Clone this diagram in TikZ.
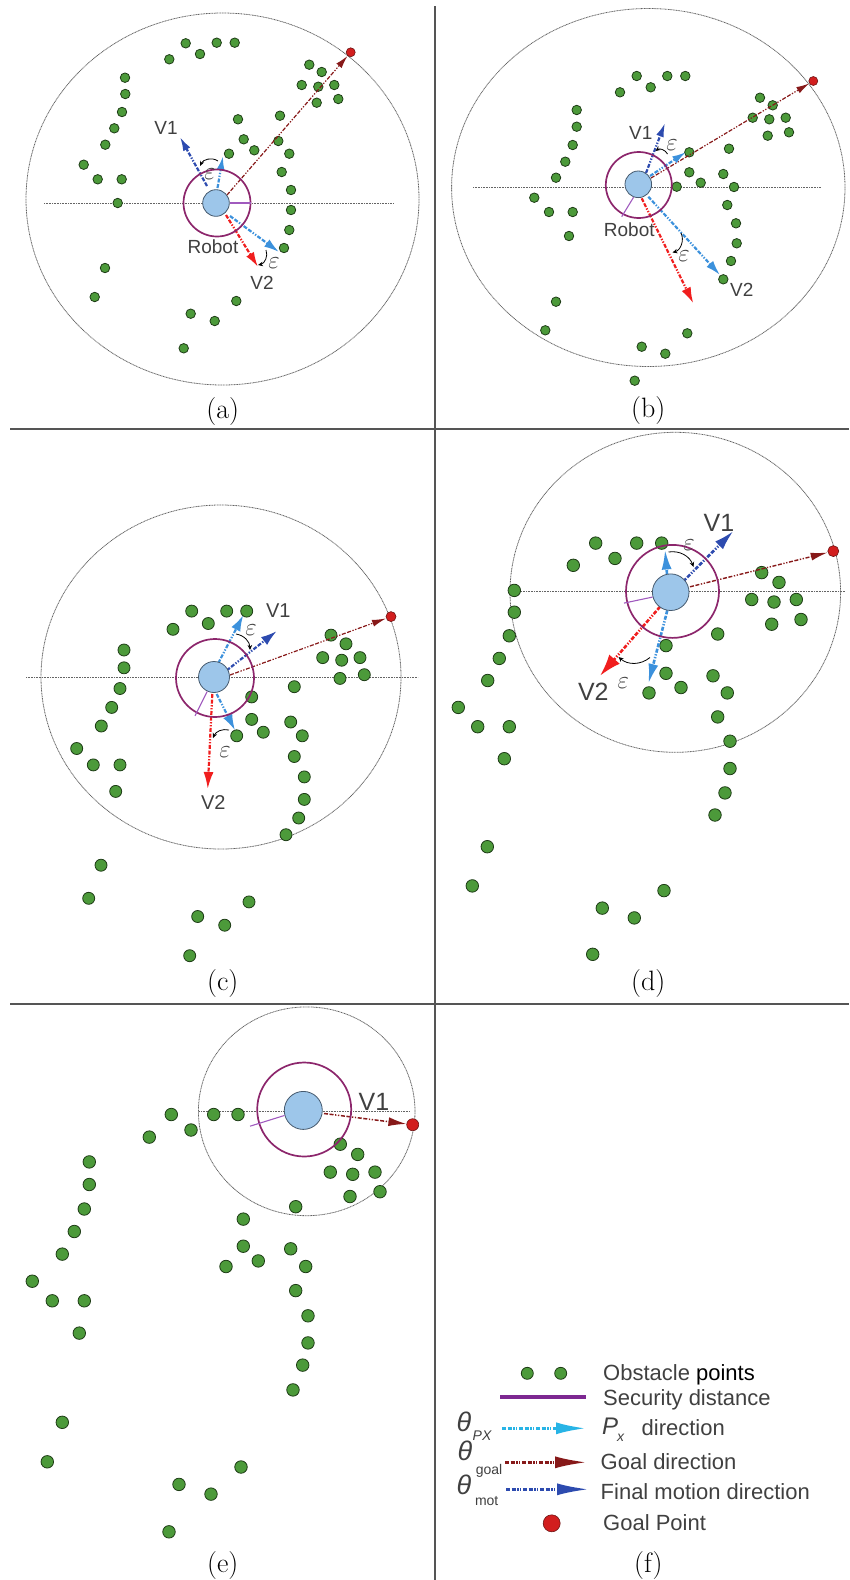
\documentclass[tikz,border=0pt]{standalone}
\usepackage{fontspec}
\newfontfamily\arialf{Liberation Sans}
\usetikzlibrary{arrows.meta,positioning}

\definecolor{obsgreen}{RGB}{76,154,58}
\definecolor{obsline}{RGB}{30,60,22}
\definecolor{robfill}{RGB}{157,198,234}
\definecolor{robline}{RGB}{70,90,110}
\definecolor{secpurple}{RGB}{140,38,108}
\definecolor{radviolet}{RGB}{160,90,190}
\definecolor{legpurple}{RGB}{125,40,145}
\definecolor{pxblue}{RGB}{60,145,220}
\definecolor{pxcyan}{RGB}{40,180,230}
\definecolor{goalred}{RGB}{135,25,25}
\definecolor{motblue}{RGB}{45,75,175}
\definecolor{vred}{RGB}{240,30,30}
\definecolor{goaldot}{RGB}{210,30,30}
\definecolor{labgray}{RGB}{64,64,64}
\definecolor{rangegray}{RGB}{100,100,100}
\definecolor{divgray}{RGB}{85,85,85}

\tikzset{
  obs/.style={circle, draw=obsline, fill=obsgreen, line width=0.8pt, inner sep=0pt, minimum size=#1},
  obs/.default=9.5,
  robot/.style={circle, draw=robline, fill=robfill, line width=0.8pt, inner sep=0pt},
  secd/.style={circle, draw=secpurple, line width=1.7pt, inner sep=0pt},
  radl/.style={draw=radviolet, line width=1.1pt},
  goalpt/.style={circle, draw=goalred!80!black, fill=goaldot, line width=0.6pt, inner sep=0pt, minimum size=#1},
  goalpt/.default=9,
  sensrange/.style={draw=rangegray, line width=0.8pt, dash pattern=on 1pt off 0.6pt},
  axisl/.style={draw=rangegray, line width=0.8pt, dash pattern=on 1pt off 0.6pt},
  ddot/.style={dash pattern=on 4pt off 1.6pt on 4pt off 1.6pt on 1.3pt off 1.6pt on 1.3pt off 1.6pt},
  tipsz/.style 2 args={-{Latex[length=#1,width=#2]}},
  pxarr/.style={draw=pxblue, line width=2.2pt, ddot},
  goalarr/.style={draw=goalred, line width=1.2pt, ddot},
  motarr/.style={draw=motblue, line width=2.2pt, ddot},
  vtwoarr/.style={draw=vred, line width=2.2pt, ddot},
  epsarc/.style={draw=black, line width=0.8pt, -{Stealth[length=5pt,width=4.5pt]}},
  lab/.style={font=\arialf\fontsize{#1}{#1}\selectfont, text=labgray, inner sep=0pt},
  lab/.default=19,
  eps/.style={font=\fontsize{#1}{#1}\selectfont, text=black!75, inner sep=0pt},
  eps/.default=25,
  capt/.style={font=\fontsize{28}{32}\selectfont, inner sep=0pt},
  divl/.style={draw=divgray, line width=1.8pt},
}

\begin{document}
\begin{tikzpicture}[x=1pt, y=-1pt]
\useasboundingbox (0,0) rectangle (849,1580);

% dividers
\coordinate (vt) at (435,6);
\coordinate (vb) at (435,1580);
\coordinate (h1l) at (10,429);
\coordinate (h1r) at (849,429);
\coordinate (h2l) at (10,1004);
\coordinate (h2r) at (849,1004);
\draw[divl] (vt) -- (vb);
\draw[divl] (h1l) -- (h1r);
\draw[divl] (h2l) -- (h2r);

% ---------------- (a) ----------------
\draw[sensrange] (222.5,199) ellipse [x radius=196.5, y radius=186];
\coordinate (ah1) at (44,203);
\coordinate (ah2) at (393,203);
\draw[axisl] (ah1) -- (ah2);
\foreach \x/\y [count=\i] in {185.7/43.3, 216.7/42.7, 234.7/42.7, 200/54, 169.3/59.3,
    125/77.7, 125.3/94, 122/112, 114.3/128.3, 105.3/144.7, 83.7/164.7, 97.7/179.3,
    121.7/179.3, 117.7/203, 309.3/64.7, 321.7/72, 301.7/85, 318.3/86.7, 334.3/85,
    316.7/102.7, 338.3/99, 238/119.3, 280/115.7, 243.7/139.3, 278.3/141, 254.3/150.3,
    229/153.7, 289.3/153.7, 281.7/172, 291/190, 291/210, 289.3/230, 284/248,
    105/268, 94.7/297, 236.3/301, 190.7/313.7, 214.7/321, 183.7/348.3}
  \node[obs] (oa\i) at (\x,\y) {};
\node[goalpt] (ga) at (350.7,52.3) {};
\coordinate (ag0) at (227,195);
\coordinate (av1a) at (207,186);
\coordinate (av1b) at (180,137);
\coordinate (apxa) at (217.5,188);
\coordinate (apxb) at (223,156);
\coordinate (av2a) at (226,215);
\coordinate (av2b) at (258,267);
\coordinate (apxc) at (230,216);
\coordinate (apxd) at (279,252);
\draw[goalarr, tipsz={13pt}{7pt}] (ag0) -- (ga);
\draw[motarr, tipsz={14pt}{8pt}] (av1a) -- (av1b);
\draw[pxarr, tipsz={14pt}{8pt}] (apxa) -- (apxb);
\draw[vtwoarr, tipsz={15pt}{9pt}] (av2a) -- (av2b);
\draw[pxarr, tipsz={15pt}{9pt}] (apxc) -- (apxd);
\coordinate (ae1) at (218,161);
\coordinate (ae2) at (200,166);
\coordinate (ae3) at (266,250);
\coordinate (ae4) at (258,265);
\draw[epsarc] (ae1) to[bend right=50] (ae2);
\draw[epsarc] (ae3) to[bend left=50] (ae4);
\node[secd, minimum size=67pt] (sa) at (217,203) {};
\node[robot, minimum size=26.6pt] (ra) at (216,203) {};
\draw[radl] (ra.east) -- (sa.east);
\node[lab] (av1) at (166,128) {V1};
\node[lab] (av2) at (262,283) {V2};
\node[lab] (arob) at (213,247) {Robot};
\node[eps] (aeps1) at (210,174) {$\varepsilon$};
\node[eps] (aeps2) at (274,263) {$\varepsilon$};
\node[capt] (capa) at (222.7,412) {(a)};

% ---------------- (b) ----------------
\draw[sensrange] (648.3,187.5) ellipse [x radius=196.7, y radius=179];
\coordinate (bh1) at (473,187.3);
\coordinate (bh2) at (821,187.3);
\draw[axisl] (bh1) -- (bh2);
\foreach \x/\y [count=\i] in {636.7/76, 667.3/76, 685.3/76, 650.7/87.3, 620/92.3,
    576.7/110, 576.7/126.7, 572.7/145, 565.3/161.7, 556/177.7, 534.3/197.7, 549/212,
    572.7/212, 569/236, 760/97.7, 772.7/105.3, 752.7/117.7, 769.3/119.3, 785.7/117.7,
    767.7/135.7, 789/132.3, 689.3/152.3, 729/148.7, 689.3/172.3, 723.3/174, 700.7/182.7,
    676.7/186.7, 734/187, 727.3/205, 736/223.3, 736.7/243.3, 731/261, 723.3/279.3,
    556/301.7, 545.3/330.3, 687.3/333.3, 641.7/346.7, 665.3/353.7, 634.7/380.7}
  \node[obs] (ob\i) at (\x,\y) {};
\node[goalpt] (gb) at (813.3,81) {};
\coordinate (bg0) at (651,178);
\coordinate (bv1a) at (646,173);
\coordinate (bv1b) at (665,123);
\coordinate (bpxa) at (650,176);
\coordinate (bpxb) at (686,152);
\coordinate (bv2a) at (641.7,198.3);
\coordinate (bv2b) at (693.3,303.3);
\coordinate (bpxc) at (648.3,196.7);
\coordinate (bpxd) at (720,275);
\draw[goalarr, tipsz={13pt}{7pt}] (bg0) -- (gb);
\draw[motarr, tipsz={14pt}{8pt}] (bv1a) -- (bv1b);
\draw[pxarr, tipsz={14pt}{8pt}] (bpxa) -- (bpxb);
\draw[vtwoarr, tipsz={16pt}{10pt}] (bv2a) -- (bv2b);
\draw[pxarr, tipsz={15pt}{9pt}] (bpxc) -- (bpxd);
\coordinate (be1) at (667.5,154);
\coordinate (be2) at (655.5,151);
\coordinate (be3) at (681,233);
\coordinate (be4) at (672.5,252.5);
\draw[epsarc] (be1) to[bend right=50] (be2);
\draw[epsarc] (be3) to[bend left=50] (be4);
\node[secd, minimum size=66pt] (sb) at (638.8,185) {};
\node[robot, minimum size=26.6pt] (rb) at (638.3,184.3) {};
\coordinate (brad) at (621.7,216.7);
\draw[radl] (rb.250) -- (brad);
\node[lab] (bv1) at (640.7,133.3) {V1};
\node[lab] (bv2) at (741.7,290) {V2};
\node[lab] (brob) at (629.3,229.3) {Robot};
\node[eps] (beps1) at (672,145) {$\varepsilon$};
\node[eps] (beps2) at (684,256) {$\varepsilon$};
\node[capt] (capb) at (648.3,411) {(b)};

% ---------------- (c) ----------------
\draw[sensrange] (221,677) ellipse [x radius=180, y radius=172];
\coordinate (ch1) at (26,677);
\coordinate (ch2) at (418,677);
\draw[axisl] (ch1) -- (ch2);
\foreach \x/\y [count=\i] in {191.7/611.1, 226.7/611.1, 246.7/611.1, 208.3/623.5, 173/629.3,
    124/650, 124/667.8, 120/688.5, 111.7/707.4, 101.3/726, 76.7/748.5, 93.3/764.9,
    120/764.9, 115.7/791.4, 331/635.1, 346/643.8, 322.7/657.6, 341.7/660.2, 360/657.6,
    340/678.4, 364.3/674.7, 294.3/686.7, 251.7/696.9, 251.7/719.4, 263.3/732.2,
    236.7/735.8, 290.7/722, 302.3/735.8, 294.3/756.5, 304.3/776.9, 304.3/799.4,
    298.7/818, 286/834.7, 101/865.2, 88.7/898.3, 249/901.9, 197.7/916.5, 224.7/925.2,
    189.7/955.7}
  \node[obs=12pt] (oc\i) at (\x,\y) {};
\node[goalpt=10pt] (gc) at (391,616.6) {};
\coordinate (cg0) at (230,675);
\coordinate (cv1a) at (226.7,670.4);
\coordinate (cv1b) at (276.7,631.1);
\coordinate (cpxa) at (218.3,663.1);
\coordinate (cpxb) at (243.3,615.1);
\coordinate (cv2a) at (212.3,694);
\coordinate (cv2b) at (207.7,789);
\coordinate (cpxc) at (216.7,694);
\coordinate (cpxd) at (235,730.3);
\draw[goalarr, tipsz={14pt}{7pt}] (cg0) -- (gc);
\draw[motarr, tipsz={16pt}{10pt}] (cv1a) -- (cv1b);
\draw[pxarr, tipsz={16pt}{10pt}] (cpxa) -- (cpxb);
\draw[vtwoarr, tipsz={17pt}{10pt}] (cv2a) -- (cv2b);
\draw[pxarr, tipsz={16pt}{10pt}] (cpxc) -- (cpxd);
\coordinate (ce1) at (236,634);
\coordinate (ce2) at (250,650);
\coordinate (ce3) at (229,730);
\coordinate (ce4) at (213,738);
\draw[epsarc] (ce1) to[bend left=40] (ce2);
\draw[epsarc] (ce3) to[bend right=40] (ce4);
\node[secd, minimum size=78pt] (sc) at (215,678) {};
\node[robot, minimum size=31pt] (rc) at (214,677) {};
\coordinate (crad) at (195,715.8);
\draw[radl] (rc.245) -- (crad);
\node[lab=20] (cv1) at (278.3,611.1) {V1};
\node[lab=20] (cv2) at (213.3,803) {V2};
\node[eps] (ceps1) at (251,630) {$\varepsilon$};
\node[eps] (ceps2) at (225,752.2) {$\varepsilon$};
\node[capt] (capc) at (222.7,984) {(c)};

% ---------------- (d) ----------------
\draw[sensrange] (675.3,592.3) ellipse [x radius=165.3, y radius=160];
\coordinate (dh1) at (510,591.5);
\coordinate (dh2) at (845,591.5);
\draw[axisl] (dh1) -- (dh2);
\foreach \x/\y [count=\i] in {595.7/543.1, 636.7/543.1, 661.7/543.1, 615/558.4, 573.3/565.3,
    514.3/590.4, 514.3/612.2, 509.3/635.8, 499.3/658.4, 487.7/680.5, 458.3/707.4,
    477.7/726.7, 509.3/726.7, 504.3/758.7, 761.7/572.6, 779/582.4, 751.7/599.5,
    774/602, 796.3/599.5, 771.7/624.2, 801/619.5, 717.7/634, 666/645.6, 666/673.3,
    681/687.5, 649/692.9, 713/675.8, 727.3/692.9, 717.7/716.9, 730/741.2, 730/768.5,
    725/792.9, 715/815, 487.3/846.7, 472.3/885.9, 664/890.6, 602.3/908.1, 634.3/917.9,
    592.7/954.3}
  \node[obs=12.5pt] (od\i) at (\x,\y) {};
\node[goalpt=11pt] (gd) at (833.3,551.1) {};
\coordinate (dg0) at (690,586.8);
\coordinate (dv1a) at (683.3,581.3);
\coordinate (dv1b) at (733.3,531.1);
\coordinate (dpxa) at (667,574);
\coordinate (dpxb) at (665,549.5);
\coordinate (dv2a) at (660,606.8);
\coordinate (dv2b) at (600,675.8);
\coordinate (dpxc) at (667.3,610.4);
\coordinate (dpxd) at (648.3,683.8);
\draw[goalarr, line width=1.4pt, tipsz={17pt}{8pt}] (dg0) -- (gd);
\draw[motarr, line width=2.6pt, tipsz={20pt}{11pt}] (dv1a) -- (dv1b);
\draw[pxarr, line width=2.6pt, tipsz={20pt}{10pt}] (dpxa) -- (dpxb);
\draw[vtwoarr, line width=2.6pt, tipsz={22pt}{14pt}] (dv2a) -- (dv2b);
\draw[pxarr, line width=2.6pt, tipsz={20pt}{10pt}] (dpxc) -- (dpxd);
\coordinate (de1) at (668.5,552);
\coordinate (de2) at (693.5,567);
\coordinate (de3) at (650,657.5);
\coordinate (de4) at (618.5,657);
\draw[epsarc] (de1) to[bend left=40] (de2);
\draw[epsarc] (de3) to[bend left=40] (de4);
\node[secd, minimum size=93pt] (sd) at (672.5,591.4) {};
\node[robot, minimum size=36.6pt] (rd) at (670.7,592.2) {};
\coordinate (drad) at (624,603.1);
\draw[radl] (rd.195) -- (drad);
\node[lab=25] (dv1) at (719,523) {V1};
\node[lab=25] (dv2) at (593.3,692.2) {V2};
\node[eps=30] (deps1) at (689,545) {$\varepsilon$};
\node[eps=30] (deps2) at (623.3,683.1) {$\varepsilon$};
\node[capt] (capd) at (648.3,984) {(d)};

% ---------------- (e) ----------------
\draw[sensrange] (306.7,1111.3) ellipse [x radius=108.3, y radius=104.4];
\coordinate (eh1) at (199.3,1111.1);
\coordinate (eh2) at (409.3,1111.1);
\draw[axisl] (eh1) -- (eh2);
\foreach \x/\y [count=\i] in {171.3/1114.5, 213.7/1114.5, 238/1114.5, 191/1130, 149.3/1137.1,
    89.3/1161.9, 89.3/1184.5, 84.3/1209, 74.3/1231.5, 62.3/1254.1, 32.3/1281.2,
    52.3/1300.8, 84.3/1300.8, 79.3/1333.1, 340.3/1144.2, 357.7/1154.4, 330.3/1172.1,
    352.7/1174.3, 375/1172.1, 350/1196.5, 380/1191.7, 295.7/1206.7, 243.3/1219.1,
    243.3/1246.2, 258.3/1260.9, 226/1266.5, 290.7/1248.8, 305.7/1266.5, 295.7/1290.6,
    308/1315.8, 308/1342.9, 302.7/1365.1, 293/1389.9, 62.3/1422.3, 47.3/1461.8,
    241/1467, 179/1484.4, 211/1494.1, 169/1531.8}
  \node[obs=12.5pt] (oe\i) at (\x,\y) {};
\node[goalpt=12pt] (ge) at (412.7,1124.7) {};
\coordinate (eg0) at (324,1113.5);
\draw[goalarr, line width=1.5pt, tipsz={18pt}{9pt}] (eg0) -- (ge);
\node[secd, minimum size=94pt] (se) at (304.2,1109.5) {};
\node[robot, minimum size=38pt] (re) at (303.3,1110.4) {};
\coordinate (erad) at (250,1126.2);
\draw[radl] (re.195) -- (erad);
\node[lab=25] (ev1) at (374,1101.4) {V1};
\node[capt] (cape) at (222.7,1565) {(e)};

% ---------------- (f) legend ----------------
\node[obs=12pt] (lo1) at (527.3,1373.3) {};
\node[obs=12pt] (lo2) at (560.7,1373.3) {};
\node[lab=22, anchor=west] (tobs) at (603,1375) {Obstacle \textcolor{black}{points}};
\coordinate (ls1) at (500,1397.3);
\coordinate (ls2) at (586,1397.3);
\draw[draw=legpurple, line width=4pt] (ls1) -- (ls2);
\node[lab=22, anchor=west] (tsec) at (603,1399.5) {Security distance};
\node[lab=25, font=\arialf\itshape\fontsize{27}{27}\selectfont] (thpx) at (464,1422) {θ};
\node[lab=14, font=\arialf\itshape\fontsize{14}{14}\selectfont] (spx) at (482,1436) {PX};
\coordinate (lp1) at (502,1428.3);
\coordinate (lp2) at (586,1428.3);
\draw[draw=pxcyan, line width=2.8pt, ddot, tipsz={30pt}{12pt}] (lp1) -- (lp2);
\node[lab=25, font=\arialf\itshape\fontsize{24}{24}\selectfont] (tpx) at (610,1426) {P};
\node[lab=14, font=\arialf\itshape\fontsize{14}{14}\selectfont, anchor=north west] (tpxs) at (617,1434) {x};
\node[lab=22, anchor=west] (tdir) at (641.5,1428) {direction};
\node[lab=25, font=\arialf\itshape\fontsize{27}{27}\selectfont] (thgo) at (465,1451) {θ};
\node[lab=14] (sgo) at (489,1471) {goal};
\coordinate (lg1) at (505,1462.3);
\coordinate (lg2) at (587,1462.3);
\draw[draw=goalred, line width=2.8pt, ddot, tipsz={32pt}{12pt}] (lg1) -- (lg2);
\node[lab=22, anchor=west] (tgo) at (600.5,1461.7) {Goal direction};
\node[lab=25, font=\arialf\itshape\fontsize{27}{27}\selectfont] (thmo) at (464,1485) {θ};
\node[lab=14] (smo) at (486.7,1501.5) {mot};
\coordinate (lm1) at (506,1489.3);
\coordinate (lm2) at (589,1489.3);
\draw[draw=motblue, line width=2.8pt, ddot, tipsz={32pt}{12pt}] (lm1) -- (lm2);
\node[lab=22, anchor=west] (tmo) at (600.5,1491.7) {Final motion direction};
\node[goalpt=17pt] (lgp) at (551.7,1523.3) {};
\node[lab=22, anchor=west] (tgp) at (603,1523) {Goal Point};
\node[capt] (capf) at (648.3,1565) {(f)};
\end{tikzpicture}
\end{document}
